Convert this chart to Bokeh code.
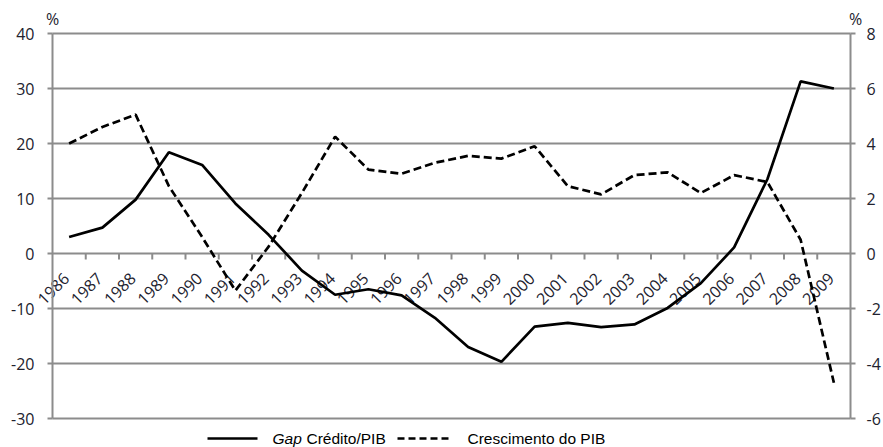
import numpy as np
from bokeh.plotting import figure
from bokeh.models import Range1d, LinearAxis, FixedTicker
from bokeh.core.properties import value
from bokeh.embed import file_html
from bokeh.resources import INLINE

# ---- data ----
years = list(range(1986, 2010))
gap_credito_pib = [3.0, 4.7, 9.8, 18.4, 16.1, 9.1, 3.4, -3.1, -7.5, -6.5, -7.6, -11.7,
                   -17.0, -19.7, -13.3, -12.6, -13.4, -12.9, -9.9, -5.4, 1.1, 13.5, 31.3, 30.0]
crescimento_pib = [4.0, 4.6, 5.05, 2.45, 0.6, -1.35, 0.25, 2.2, 4.25, 3.05, 2.9, 3.3,
                   3.55, 3.45, 3.9, 2.45, 2.15, 2.85, 2.95, 2.2, 2.85, 2.6, 0.5, -4.7]
left_ticks = [-30, -20, -10, 0, 10, 20, 30, 40]
right_ticks = [-6, -4, -2, 0, 2, 4, 6, 8]
year_labels = [str(y) for y in years]
legend_labels = ["Gap", "Crédito/PIB", "Crescimento do PIB"]

GRID = "#8c8c8c"
TXT = "#22222e"

# ---- canvas geometry (pixels) ----
W, H = 883, 447
PL, PR, PT, PB = 52, 850, 33, 418   # plot-area box inside the canvas

xa, xb = years[0] - 0.5, years[-1] + 0.5
ya, yb = left_ticks[0], left_ticks[-1]
kx = (PR - PL) / (xb - xa)       # px per x unit
ky = (PB - PT) / (yb - ya)       # px per y unit
x_start, x_end = xa - PL / kx, xb + (W - PR) / kx
y_end, y_start = yb + PT / ky, ya - (H - PB) / ky
ratio = (right_ticks[-1] - right_ticks[0]) / (yb - ya)

def X(px):
    return x_start + px / kx
def Y(py):
    return y_end - py / ky

p = figure(width=W, height=H, output_backend="svg", toolbar_location=None,
           x_range=Range1d(x_start, x_end), y_range=Range1d(y_start, y_end),
           x_axis_location=None, y_axis_location=None,
           min_border=0, min_border_left=0, min_border_right=0,
           min_border_top=0, min_border_bottom=0)
p.outline_line_color = None
p.background_fill_color = "white"
p.border_fill_color = "white"
p.xgrid.grid_line_color = None
p.ygrid.grid_line_color = None
p.extra_y_ranges = {"pib": Range1d(y_start * ratio, y_end * ratio)}

# horizontal grid lines
p.segment(x0=[xa] * len(left_ticks), x1=[xb] * len(left_ticks), y0=left_ticks, y1=left_ticks,
          line_color=GRID, line_width=2)

def style_axis(a, standoff, ticks):
    a.axis_line_color = GRID
    a.axis_line_width = 2
    a.major_tick_line_color = GRID
    a.major_tick_line_width = 2
    a.major_tick_out = 5
    a.major_tick_in = 0
    a.minor_tick_line_color = None
    a.major_label_standoff = standoff
    a.major_label_text_font = "Open Sans"
    a.major_label_text_font_size = "16px"
    a.major_label_text_color = TXT
    a.major_label_overrides = {t: str(t) for t in ticks}

lax = LinearAxis(ticker=FixedTicker(ticks=left_ticks), bounds=(ya, yb), fixed_location=xa)
style_axis(lax, 13, left_ticks)
p.add_layout(lax, "left")
rax = LinearAxis(y_range_name="pib", ticker=FixedTicker(ticks=right_ticks),
                 bounds=(right_ticks[0], right_ticks[-1]), fixed_location=xb)
style_axis(rax, 11, right_ticks)
p.add_layout(rax, "right")

# category tick marks on zero line
bounds = [y + 0.5 for y in years[:-1]]
p.segment(x0=bounds, y0=[0] * len(bounds), x1=bounds, y1=[-6 / ky] * len(bounds),
          line_color=GRID, line_width=2)

# year labels
p.text(x=years, y=[0] * len(years), text=year_labels, angle=np.pi / 4,
       text_align="right", text_baseline="middle", x_offset=-3, y_offset=22,
       text_font=value("Open Sans"), text_font_size="16px", text_color=TXT)

# series
p.line(years, gap_credito_pib, line_color="black", line_width=2.7)
p.line(years, crescimento_pib, y_range_name="pib", line_color="black",
       line_width=2.7, line_dash="8 4")

# percent labels
p.text(x=[xa, xb + 5 / kx], y=[yb, yb], text=["%", "%"], text_align="center",
       text_baseline="middle", y_offset=-15, text_font=value("Open Sans"),
       text_font_size="16px", text_color=TXT)

# legend
ly = Y(438)
p.line([X(207), X(257)], [ly, ly], line_color="black", line_width=2.7)
p.line([X(397), X(452)], [ly, ly], line_color="black", line_width=2.7, line_dash="7 4")
p.text(x=[X(272)], y=[ly], text=[legend_labels[0]], text_baseline="middle",
       text_font=value("Liberation Sans"), text_font_style="italic",
       text_font_size="15.5px", text_color="black")
p.text(x=[X(306), X(467)], y=[ly, ly], text=legend_labels[1:], text_baseline="middle",
       text_font=value("Liberation Sans"), text_font_size="15.5px", text_color="black")

open("out.html", "w").write(file_html(p, INLINE))
